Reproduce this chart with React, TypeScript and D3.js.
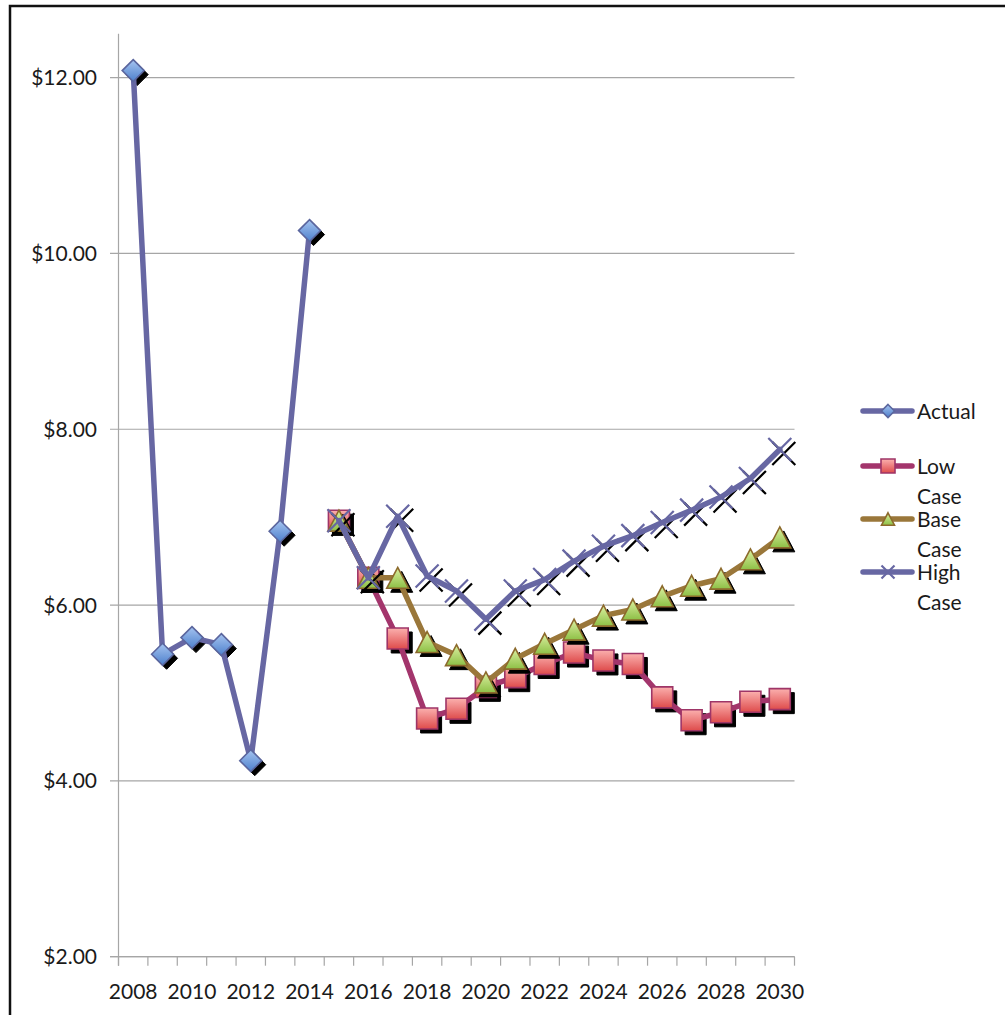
import React from "react";
import * as d3 from "d3";

const years = d3.range(2008, 2031).map(String);
const yTicks = [2, 4, 6, 8, 10, 12];
const xLabelYears = ["2008","2010","2012","2014","2016","2018","2020","2022","2024","2026","2028","2030"];

const actualYears = ["2008","2009","2010","2011","2012","2013","2014"];
const actualValues = [12.08, 5.44, 5.63, 5.55, 4.23, 6.84, 10.26];

const forecastYears = ["2015","2016","2017","2018","2019","2020","2021","2022","2023","2024","2025","2026","2027","2028","2029","2030"];
const lowValues = [6.96, 6.31, 5.62, 4.71, 4.82, 5.07, 5.18, 5.33, 5.46, 5.37, 5.33, 4.95, 4.69, 4.78, 4.90, 4.93];
const baseValues = [6.96, 6.31, 6.31, 5.58, 5.43, 5.12, 5.39, 5.56, 5.72, 5.88, 5.95, 6.10, 6.22, 6.30, 6.52, 6.77];
const highValues = [6.96, 6.31, 7.01, 6.33, 6.16, 5.84, 6.16, 6.29, 6.50, 6.67, 6.79, 6.94, 7.08, 7.23, 7.44, 7.77];

const legendNames = ["Actual", "Low Case", "Base Case", "High Case"];

const FONT = "Lato, 'Open Sans', sans-serif";

const purple = "#6767A3";
const maroon = "#A3356C";
const brown = "#9A773A";

type Shape = "diamond" | "square" | "triangle" | "x";

function shapePath(shape: Shape, s: number): string {
  switch (shape) {
    case "diamond":
      return `M0,${-s}L${s},0L0,${s}L${-s},0Z`;
    case "square":
      return `M${-s},${-s}H${s}V${s}H${-s}Z`;
    case "triangle": {
      const h = s * 0.95;
      return `M0,${-h}L${s},${h}L${-s},${h}Z`;
    }
    case "x":
      return `M${-s},${-s}L${s},${s}M${s},${-s}L${-s},${s}`;
  }
}

function Marker({ shape, x, y, s, fill, stroke }: { shape: Shape; x: number; y: number; s: number; fill: string; stroke: string }) {
  const d = shapePath(shape, s);
  const isX = shape === "x";
  return (
    <path
      d={d}
      transform={`translate(${x},${y})`}
      fill={isX ? "none" : fill}
      stroke={stroke}
      strokeWidth={isX ? 2.2 : 1.6}
    />
  );
}

export default function App() {
  const W = 1005, H = 1015;
  const x = d3.scaleBand<string>().domain(years).range([118.5, 794.5]).padding(0);
  const y = d3.scaleLinear().domain([2, 12.5]).range([956.7, 33.7]);
  const cx = (yr: string) => (x(yr) as number) + x.bandwidth() / 2;

  const line = d3.line<[string, number]>().x((d) => cx(d[0])).y((d) => y(d[1]));

  const series = [
    { name: "Actual", yrs: actualYears, vals: actualValues, color: purple, shape: "diamond" as Shape, fill: "url(#gDiamond)", stroke: "#5B669E", s: 11 },
    { name: "Low Case", yrs: forecastYears, vals: lowValues, color: maroon, shape: "square" as Shape, fill: "url(#gSquare)", stroke: "#9E3567", s: 10.5 },
    { name: "Base Case", yrs: forecastYears, vals: baseValues, color: brown, shape: "triangle" as Shape, fill: "url(#gTri)", stroke: "#8C6A2C", s: 11 },
    { name: "High Case", yrs: forecastYears, vals: highValues, color: purple, shape: "x" as Shape, fill: "none", stroke: purple, s: 11.5 },
  ];

  const xAxisY = y(2);
  const xLeft = 118.5, xRight = 794.5;
  const boundaries = years.map((yr) => x(yr) as number).concat([xRight]);

  const legendY = [411, 466, 519, 572];

  return (
    <svg width={W} height={H} style={{ position: "absolute", left: 0, top: 0, background: "#fff" }} fontFamily={FONT}>
      <defs>
        <linearGradient id="gDiamond" x1="0" y1="0" x2="0" y2="1">
          <stop offset="0" stopColor="#A6C4F0" />
          <stop offset="1" stopColor="#4D80CC" />
        </linearGradient>
        <linearGradient id="gSquare" x1="0" y1="0" x2="0" y2="1">
          <stop offset="0" stopColor="#FBB0AE" />
          <stop offset="1" stopColor="#DE4B4B" />
        </linearGradient>
        <linearGradient id="gTri" x1="0" y1="0" x2="0" y2="1">
          <stop offset="0" stopColor="#DDF0A2" />
          <stop offset="1" stopColor="#8DC046" />
        </linearGradient>
      </defs>
      <rect x={0} y={0} width={W} height={H} fill="#fff" />
      <path d={`M10,${H}V6H${W}`} fill="none" stroke="#111" strokeWidth={2.5} />

      {yTicks.map((t) => (
        <g key={t}>
          <line x1={110} x2={xRight} y1={y(t)} y2={y(t)} stroke="#A6A6A6" strokeWidth={1.2} />
          <text x={97} y={y(t) + 7.5} textAnchor="end" fontSize={21} fill="#1a1a1a">
            {"$" + t.toFixed(2)}
          </text>
        </g>
      ))}
      <line x1={xLeft} x2={xLeft} y1={y(12.5)} y2={xAxisY + 9} stroke="#A6A6A6" strokeWidth={1.2} />
      <line x1={110} x2={xRight} y1={xAxisY} y2={xAxisY} stroke="#A6A6A6" strokeWidth={1.2} />
      {boundaries.map((b, i) => (
        <line key={i} x1={b} x2={b} y1={xAxisY} y2={xAxisY + 9} stroke="#A6A6A6" strokeWidth={1.2} />
      ))}
      {xLabelYears.map((yr) => (
        <text key={yr} x={cx(yr)} y={999} textAnchor="middle" fontSize={21} fill="#1a1a1a">
          {yr}
        </text>
      ))}

      {series.map((s) => {
        const pts: [string, number][] = s.yrs.map((yr, i) => [yr, s.vals[i]]);
        return (
          <g key={s.name}>
            {pts.map((p, i) => (
              <path
                key={"sh" + i}
                d={shapePath(s.shape, s.s)}
                transform={`translate(${cx(p[0]) + 4},${y(p[1]) + 4})`}
                fill={s.shape === "x" ? "none" : "#000"}
                stroke="#000"
                strokeWidth={s.shape === "x" ? 2.2 : 1}
              />
            ))}
            <path d={line(pts) as string} fill="none" stroke={s.color} strokeWidth={5.5} strokeLinejoin="round" strokeLinecap="round" />
            {pts.map((p, i) => (
              <Marker key={i} shape={s.shape} x={cx(p[0])} y={y(p[1])} s={s.s} fill={s.fill} stroke={s.stroke} />
            ))}
          </g>
        );
      })}

      {series.map((s, i) => {
        const ly = legendY[i];
        const words = legendNames[i].split(" ");
        return (
          <g key={"lg" + i}>
            <line x1={863} x2={912} y1={ly} y2={ly} stroke={s.color} strokeWidth={5.5} strokeLinecap="round" />
            <Marker shape={s.shape} x={888} y={ly} s={s.shape === "square" ? 7 : 6.5} fill={s.fill} stroke={s.stroke} />
            {words.map((w, j) => (
              <text key={j} x={917} y={ly + 7.5 + j * 30} fontSize={21} fill="#1a1a1a">
                {w}
              </text>
            ))}
          </g>
        );
      })}
    </svg>
  );
}
